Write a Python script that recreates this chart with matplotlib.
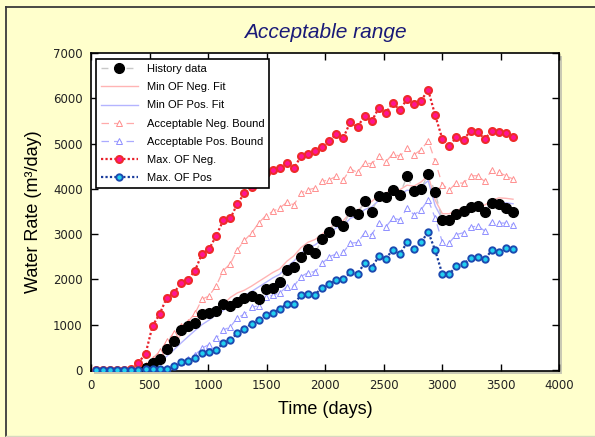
import matplotlib
matplotlib.use("Agg")
import matplotlib.pyplot as plt
from matplotlib.patches import Rectangle
from matplotlib.lines import Line2D

plt.rcParams['font.family'] = ['Liberation Sans', 'DejaVu Sans']

# ---------------- data ----------------
time_days = [43, 103, 164, 224, 285, 345, 405, 466, 526, 587, 647, 707, 768, 828, 889,
             949, 1009, 1070, 1130, 1191, 1251, 1311, 1372, 1432, 1493, 1553, 1613, 1674,
             1734, 1795, 1855, 1915, 1976, 2036, 2097, 2157, 2217, 2278, 2338, 2399, 2459,
             2519, 2580, 2640, 2701, 2761, 2821, 2882, 2942, 3003, 3063, 3123, 3184, 3244,
             3305, 3365, 3425, 3486, 3546, 3607]

history_start = 7
history_data = [40, 146, 250, 470, 640, 883, 971, 1044, 1237, 1252, 1310, 1458, 1414, 1509,
                1583, 1635, 1568, 1790, 1819, 1951, 2210, 2283, 2504, 2668, 2579, 2889, 3044,
                3294, 3183, 3515, 3442, 3721, 3486, 3847, 3825, 3980, 3869, 4280, 3960, 4000,
                4320, 3920, 3300, 3300, 3442, 3500, 3588, 3611, 3478, 3686, 3670, 3574, 3486]

min_of_neg_fit = [0, 0, 0, 0, 0, 0, 0, 60, 180, 330, 480, 620, 760, 900, 1030, 1150, 1240,
                  1360, 1440, 1600, 1700, 1760, 1850, 1950, 2050, 2150, 2230, 2400, 2520, 2700,
                  2820, 2880, 3000, 3120, 3260, 3300, 3470, 3520, 3660, 3720, 3860, 3900, 4000,
                  3980, 4080, 4060, 4150, 4290, 3750, 3450, 3450, 3530, 3570, 3620, 3650, 3640,
                  3740, 3800, 3790, 3770]

min_of_pos_fit = [0, 0, 0, 0, 0, 0, 0, 0, 60, 170, 300, 440, 590, 730, 870, 1000, 1100,
                  1220, 1310, 1460, 1570, 1640, 1730, 1830, 1930, 2030, 2110, 2280, 2400, 2580,
                  2700, 2760, 2880, 3000, 3140, 3180, 3350, 3400, 3540, 3600, 3740, 3790, 3890,
                  3870, 3970, 3950, 4040, 4180, 3620, 3330, 3340, 3420, 3460, 3510, 3550, 3540,
                  3640, 3700, 3690, 3670]

acc_neg_bound = [0, 0, 0, 0, 0, 0, 20, 100, 250, 410, 630, 810, 960, 1060, 1250, 1560, 1635,
                 1856, 2195, 2343, 2652, 2858, 3022, 3243, 3404, 3500, 3580, 3698, 3648, 3906,
                 3979, 4017, 4163, 4201, 4274, 4201, 4437, 4362, 4570, 4555, 4716, 4592, 4776,
                 4716, 4902, 4754, 4864, 5060, 4605, 4090, 3979, 4127, 4127, 4289, 4289, 4163,
                 4422, 4362, 4289, 4216]

acc_pos_bound = [0, 0, 0, 0, 0, 0, 0, 0, 0, 10, 40, 100, 170, 250, 330, 480, 560, 700, 880,
                 950, 1150, 1230, 1380, 1420, 1600, 1650, 1700, 1840, 1850, 2060, 2150, 2170,
                 2350, 2500, 2560, 2600, 2800, 2814, 3022, 2984, 3243, 3155, 3353, 3316, 3575,
                 3427, 3537, 3758, 3350, 2820, 2810, 2990, 3030, 3150, 3180, 3070, 3270, 3243,
                 3243, 3205]

max_of_neg = [0, 0, 0, 0, 0, 20, 160, 352, 971, 1237, 1590, 1694, 1915, 1989, 2195, 2564,
              2667, 2962, 3301, 3345, 3670, 3900, 4050, 4200, 4348, 4422, 4459, 4570, 4459,
              4716, 4776, 4827, 4924, 5048, 5215, 5130, 5480, 5360, 5616, 5490, 5787, 5676,
              5897, 5734, 5986, 5882, 5948, 6185, 5620, 5101, 4945, 5140, 5085, 5280, 5256,
              5101, 5275, 5256, 5234, 5137]

max_of_pos = [0, 0, 0, 0, 0, 0, 0, 10, 15, 20, 25, 94, 175, 204, 263, 366, 389, 440, 588,
              661, 809, 912, 1015, 1104, 1214, 1266, 1340, 1458, 1458, 1649, 1679, 1664, 1819,
              1893, 1981, 2003, 2151, 2121, 2357, 2261, 2505, 2460, 2652, 2556, 2814, 2667,
              2814, 3050, 2637, 2114, 2114, 2298, 2343, 2468, 2483, 2446, 2637, 2608, 2682,
              2667]

x_ticks = [0, 500, 1000, 1500, 2000, 2500, 3000, 3500, 4000]
y_ticks = [0, 1000, 2000, 3000, 4000, 5000, 6000, 7000]

# ---------------- figure ----------------
W, H = 595, 437
fig = plt.figure(figsize=(W / 100, H / 100), dpi=100)
fig.patch.set_facecolor('#ffffcc')

ax_l, ax_r, ax_t, ax_b = 91, 559, 53, 371
ax = fig.add_axes([ax_l / W, 1 - ax_b / H, (ax_r - ax_l) / W, (ax_b - ax_t) / H])

# shadow behind axes
fig.patches.append(Rectangle(((ax_l + 3) / W, 1 - (ax_b + 3) / H), (ax_r - ax_l) / W,
                             (ax_b - ax_t) / H, transform=fig.transFigure,
                             facecolor='#c9c9b4', edgecolor='none', zorder=-5))
# outer frame lines
fig.lines.append(Line2D([5.5 / W, 5.5 / W], [1 - 7 / H, 1 - 435.5 / H], transform=fig.transFigure,
                        color='#3a3a3a', lw=1.3))
fig.lines.append(Line2D([5.5 / W, 1.0], [1 - 7 / H, 1 - 7 / H], transform=fig.transFigure,
                        color='#3a3a3a', lw=1.3))
fig.lines.append(Line2D([5.5 / W, 1.0], [1 - 435.5 / H, 1 - 435.5 / H], transform=fig.transFigure,
                        color='#d8d8c0', lw=1.0))

ax.set_facecolor('white')

hist_t = time_days[history_start:]

l_hist, = ax.plot(hist_t, history_data, linestyle=(0, (5, 4)), color='#c8c8c8', lw=1.0,
                  marker='o', markersize=7, markerfacecolor='black', markeredgecolor='black',
                  zorder=5, label='History data')
l_nfit, = ax.plot(time_days, min_of_neg_fit, color='#ffb4b4', lw=1.0, zorder=2,
                  label='Min OF Neg. Fit')
l_pfit, = ax.plot(time_days, min_of_pos_fit, color='#b4b4ff', lw=1.0, zorder=2,
                  label='Min OF Pos. Fit')
l_nb, = ax.plot(time_days, acc_neg_bound, linestyle=(0, (6, 4)), color='#ffaaaa', lw=0.9,
                marker='^', markersize=4, markerfacecolor='white', markeredgecolor='#ff8f8f',
                markeredgewidth=0.7, zorder=3, label='Acceptable Neg. Bound')
l_pb, = ax.plot(time_days, acc_pos_bound, linestyle=(0, (6, 4)), color='#aaaaff', lw=0.9,
                marker='^', markersize=4, markerfacecolor='white', markeredgecolor='#8f8fff',
                markeredgewidth=0.7, zorder=3, label='Acceptable Pos. Bound')
l_mn, = ax.plot(time_days, max_of_neg, linestyle=(0, (1, 1)), color='#e8202a', lw=1.6,
                marker='o', markersize=5, markerfacecolor='#ff1493', markeredgecolor='#ee2a2a',
                markeredgewidth=1.5, zorder=6, label='Max. OF Neg.')
l_mp, = ax.plot(time_days, max_of_pos, linestyle=(0, (1, 1)), color='#1a3c9c', lw=1.6,
                marker='o', markersize=4.6, markerfacecolor='#22d0f0', markeredgecolor='#1c4ab0',
                markeredgewidth=1.4, zorder=7, label='Max. OF Pos')

ax.set_xlim(0, 4000)
ax.set_ylim(-25, 7000)
ax.set_xticks(x_ticks)
ax.set_yticks(y_ticks)
ax.tick_params(direction='in', length=5, width=1, top=True, right=True,
               labelsize=8.5, labelcolor='#222222', pad=6)
for lab in ax.get_xticklabels() + ax.get_yticklabels():
    lab.set_fontfamily('DejaVu Sans')
for s in ax.spines.values():
    s.set_linewidth(1.2)
    s.set_color('black')

ax.set_xlabel('Time (days)', fontsize=13)
ax.xaxis.set_label_coords(0.5, -0.095)
ax.set_ylabel('Water Rate (m³/day)', fontsize=13)
ax.yaxis.set_label_coords(-0.105, 0.5)

fig.text(325 / W, 1 - 33 / H, 'Acceptable range', fontsize=15, style='italic',
         color='#1a1a78', ha='center', va='center')

leg = ax.legend(handles=[l_hist, l_nfit, l_pfit, l_nb, l_pb, l_mn, l_mp],
                loc='upper left', bbox_to_anchor=((96 - ax_l) / (ax_r - ax_l), (ax_b - 59) / (ax_b - ax_t)),
                borderaxespad=0, fontsize=8, frameon=True, fancybox=False, framealpha=1,
                edgecolor='black', handlelength=3.3, handletextpad=0.8, labelspacing=0.74,
                borderpad=0.45, numpoints=1)
leg.get_frame().set_linewidth(1.2)
leg.set_zorder(20)

fig.savefig('out.png', dpi=100, facecolor=fig.get_facecolor())
